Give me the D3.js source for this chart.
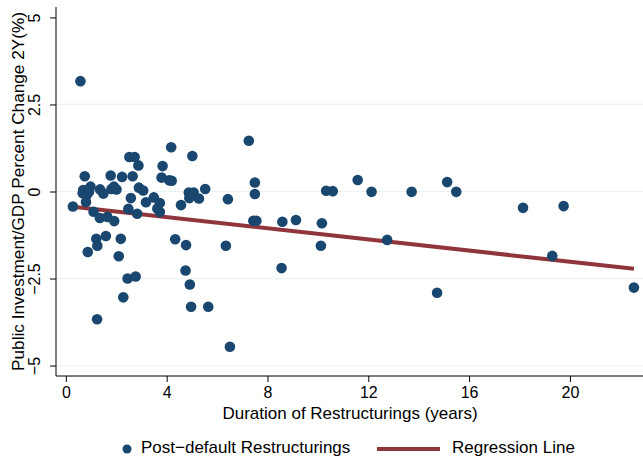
<!DOCTYPE html>
<html>
<head>
<meta charset="utf-8">
<script src="https://cdn.jsdelivr.net/npm/d3@7"></script>
<style>
  html, body { margin: 0; padding: 0; background: #fff; }
  svg text { font-family: "Liberation Sans", Arial, Helvetica, sans-serif; fill: #000; }
</style>
</head>
<body>
<svg id="chart" width="643" height="457"></svg>
<script>
// Scatter of post-default restructurings: duration vs change in public investment/GDP.

const duration = [
  0.58, 0.75, 0.28, 0.69, 0.88, 0.98, 0.83, 0.80, 0.67, 0.92,
  1.10, 1.35, 1.65, 1.92, 1.78, 1.36, 1.49, 1.81, 2.01, 1.91,
  2.23, 2.52, 2.73, 2.88, 2.65, 2.90, 3.07, 2.58, 2.48, 2.83,
  3.18, 3.49, 3.73, 3.63, 3.73, 4.18, 3.84, 3.80, 4.10, 4.20,
  4.57, 5.02, 4.88, 5.07, 4.90, 5.28, 5.53, 6.43, 7.26, 7.50,
  7.50, 7.44, 7.56, 0.87, 1.21, 1.25, 1.59, 2.18, 2.10, 2.45,
  2.77, 2.28, 1.24, 4.34, 4.77, 4.75, 4.92, 4.97, 5.65, 6.35,
  6.51, 8.56, 8.59, 9.13, 10.16, 10.12, 10.33, 10.59, 11.58, 12.13,
  12.75, 13.72, 14.73, 15.13, 15.49, 18.14, 19.75, 19.30, 22.54
];
const invChange = [
  3.17, 0.44, -0.43, 0.04, 0.04, 0.14, -0.10, -0.30, -0.05, -0.01,
  -0.58, -0.76, -0.73, -0.85, 0.46, 0.06, -0.06, 0.07, 0.06, 0.14,
  0.42, 0.99, 0.99, 0.75, 0.44, 0.11, 0.03, -0.19, -0.50, -0.64,
  -0.31, -0.17, -0.33, -0.49, -0.59, 1.27, 0.73, 0.40, 0.32, 0.31,
  -0.39, 1.02, -0.03, -0.03, -0.19, -0.20, 0.07, -0.22, 1.46, 0.26,
  -0.07, -0.84, -0.84, -1.74, -1.36, -1.56, -1.28, -1.36, -1.86, -2.50,
  -2.44, -3.04, -3.67, -1.37, -1.54, -2.27, -2.67, -3.31, -3.31, -1.56,
  -4.46, -2.20, -0.87, -0.82, -0.91, -1.56, 0.02, 0.01, 0.33, -0.01,
  -1.39, -0.01, -2.91, 0.27, -0.01, -0.47, -0.42, -1.85, -2.76
];

// fitted line: intercept and slope
const regIntercept = -0.418;
const regSlope = -0.080;

const xTicks = [0, 4, 8, 12, 16, 20];
const yTicks = [-5, -2.5, 0, 2.5, 5];
const yTickLabels = ["\u22125", "\u22122.5", "0", "2.5", "5"];
const yGrid = [-5, -2.5, 0, 2.5];

const NAVY = "#1a476f";
const MAROON = "#90353b";

const svg = d3.select("#chart");

const x = d3.scaleLinear().domain([-0.39, 22.9]).range([56, 643]);
const y = d3.scaleLinear().domain([-5.3, 5.3]).range([376, 7]);

// gridlines
svg.append("g").selectAll("line")
  .data(yGrid)
  .join("line")
  .attr("x1", 56).attr("x2", 643)
  .attr("y1", (d) => y(d)).attr("y2", (d) => y(d))
  .attr("stroke", "#eaf2f3").attr("stroke-width", 1.2);

// axes
const yAxis = d3.axisLeft(y).tickValues(yTicks).tickSize(6)
  .tickFormat((d, i) => yTickLabels[i]);
const gy = svg.append("g").attr("transform", "translate(56,0)").call(yAxis);
gy.attr("font-family", null).attr("font-size", null);
gy.select(".domain").attr("d", `M0,${y(5.3)}V${y(-5.3)}`).attr("stroke", "#000");
gy.selectAll(".tick line").attr("stroke", "#000");
gy.selectAll(".tick text")
  .attr("font-size", 16)
  .attr("text-anchor", "middle")
  .attr("x", 0).attr("dy", 0)
  .attr("transform", "translate(-16,0) rotate(-90)");

const xAxis = d3.axisBottom(x).tickValues(xTicks).tickSize(6).tickPadding(5);
const gx = svg.append("g").attr("transform", "translate(0,376)").call(xAxis);
gx.attr("font-family", null).attr("font-size", null);
gx.select(".domain").attr("d", `M56,0H643`).attr("stroke", "#000");
gx.selectAll(".tick line").attr("stroke", "#000");
gx.selectAll(".tick text").attr("font-size", 16).attr("dy", "0.71em");

// regression line across the observed range
const xr = d3.extent(duration);
svg.append("line")
  .attr("x1", x(xr[0])).attr("y1", y(regIntercept + regSlope * xr[0]))
  .attr("x2", x(xr[1])).attr("y2", y(regIntercept + regSlope * xr[1]))
  .attr("stroke", MAROON).attr("stroke-width", 4);

// points
svg.append("g").selectAll("circle")
  .data(duration)
  .join("circle")
  .attr("cx", (d) => x(d))
  .attr("cy", (d, i) => y(invChange[i]))
  .attr("r", 5.3)
  .attr("fill", NAVY);

// axis titles
svg.append("text")
  .attr("x", 350).attr("y", 419)
  .attr("text-anchor", "middle")
  .attr("font-size", 17)
  .text("Duration of Restructurings (years)");

svg.append("text")
  .attr("transform", `translate(24,${y(0)}) rotate(-90)`)
  .attr("text-anchor", "middle")
  .attr("font-size", 17.2)
  .text("Public Investment/GDP Percent Change 2Y(%)");

// legend
const lg = svg.append("g");
lg.append("circle").attr("cx", 127).attr("cy", 449).attr("r", 4.5).attr("fill", NAVY);
lg.append("text").attr("x", 141).attr("y", 453).attr("font-size", 17)
  .text("Post\u2212default Restructurings");
lg.append("line").attr("x1", 377).attr("x2", 440).attr("y1", 449).attr("y2", 449)
  .attr("stroke", MAROON).attr("stroke-width", 4);
lg.append("text").attr("x", 452).attr("y", 453).attr("font-size", 17)
  .text("Regression Line");
</script>
</body>
</html>
